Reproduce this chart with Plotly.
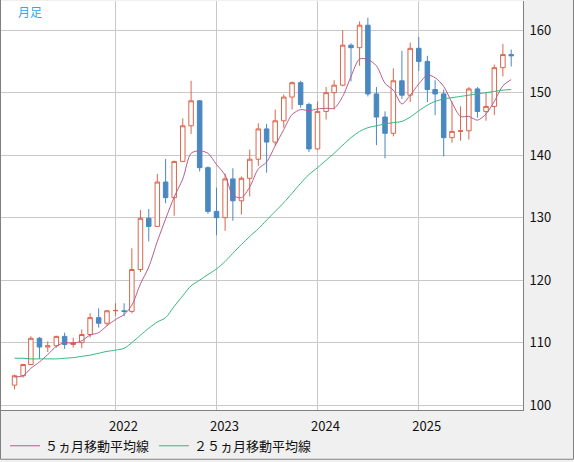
import pandas as pd
import plotly.graph_objects as go

# monthly bars, Jan 2021 - Dec 2025
months = pd.date_range("2021-01-01", "2025-12-01", freq="MS")

opens = [103.2, 104.7, 106.5, 110.7, 109.3, 109.5, 111.0, 109.7, 110.0, 111.3, 114.0, 113.1,
         115.1, 115.1, 115.0, 121.7, 129.9, 128.6, 135.7, 133.2, 139.0, 144.7, 148.7, 138.0,
         131.0, 130.0, 136.2, 132.7, 136.3, 139.35, 144.2, 142.1, 145.5, 149.3, 151.6, 148.1,
         141.0, 147.0, 150.0, 151.2, 157.6, 157.2, 160.8, 149.8, 146.1, 143.5, 151.9, 149.6,
         157.1, 155.0, 150.5, 149.8, 142.8, 143.8, 143.9, 150.6, 147.0, 147.8, 154.0, 156.1]
highs = [104.9, 106.6, 111.0, 110.9, 110.2, 111.1, 111.6, 110.8, 112.1, 114.7, 115.5, 115.2,
         116.3, 116.3, 125.1, 131.2, 131.4, 137.0, 139.4, 139.1, 145.9, 151.9, 148.8, 138.2,
         134.8, 137.0, 137.9, 136.6, 140.9, 145.1, 145.0, 147.3, 149.7, 151.8, 151.9, 148.4,
         148.6, 150.9, 152.0, 160.0, 157.9, 161.4, 162.0, 150.9, 147.0, 153.9, 156.7, 158.0,
         158.9, 155.9, 152.0, 150.5, 148.6, 147.8, 150.9, 150.9, 150.0, 154.5, 157.8, 156.9]
lows = [102.5, 104.4, 106.4, 107.4, 108.5, 109.2, 109.0, 109.2, 109.1, 110.8, 112.4, 112.7,
        114.3, 114.2, 114.7, 121.3, 126.2, 128.6, 132.3, 130.3, 138.9, 143.4, 137.4, 130.6,
        127.2, 127.9, 129.5, 130.5, 133.4, 138.3, 137.2, 141.5, 144.4, 147.3, 147.6, 140.5,
        140.8, 145.7, 147.3, 151.0, 151.8, 154.3, 149.4, 141.6, 139.5, 143.0, 149.0, 148.5,
        153.5, 148.5, 146.4, 139.8, 142.0, 142.3, 142.5, 146.0, 145.5, 146.4, 152.6, 154.2]
closes = [104.7, 106.5, 110.7, 109.3, 109.5, 111.0, 109.7, 110.0, 111.3, 114.0, 113.1, 115.1,
          115.15, 115.0, 121.7, 129.9, 128.6, 135.7, 133.2, 139.0, 144.7, 148.7, 138.0, 131.0,
          130.0, 136.2, 132.7, 136.3, 139.35, 144.2, 142.1, 145.5, 149.3, 151.6, 148.1, 141.0,
          147.0, 150.0, 151.2, 157.6, 157.2, 160.8, 149.8, 146.1, 143.5, 151.9, 149.6, 157.1,
          155.0, 150.5, 149.8, 142.8, 143.8, 143.9, 150.6, 147.0, 147.8, 154.0, 156.1, 155.9]

ma5 = [104.5, 104.7, 105.9, 106.9, 108.1, 109.4, 110.0, 109.9, 110.3, 111.2, 111.6, 112.7,
       113.7, 114.5, 116.0, 119.4, 122.1, 126.2, 129.8, 133.3, 136.2, 140.3, 140.7, 140.3,
       138.5, 136.8, 133.6, 133.2, 134.9, 137.8, 138.9, 141.5, 144.1, 146.5, 147.3, 147.1,
       147.4, 147.5, 147.5, 149.4, 152.6, 155.4, 155.3, 154.3, 151.5, 150.4, 148.2, 149.6,
       151.4, 152.8, 152.4, 151.0, 148.4, 146.2, 146.2, 145.6, 146.6, 148.6, 151.1, 152.1]
ma25 = [107.5, 107.5, 107.4, 107.4, 107.4, 107.4, 107.5, 107.6, 107.8, 108.0, 108.3, 108.6,
        108.8, 109.1, 110.0, 111.2, 112.3, 113.3, 114.0, 115.8, 117.5, 119.1, 120.0, 120.9,
        121.8, 123.0, 124.3, 125.7, 127.0, 128.2, 129.6, 131.0, 132.4, 133.9, 135.5, 136.9,
        138.0, 139.2, 140.3, 141.6, 142.8, 143.8, 144.4, 144.7, 145.0, 145.2, 145.4, 146.1,
        147.1, 148.0, 148.6, 149.0, 149.2, 149.4, 149.6, 149.8, 150.0, 150.2, 150.4, 150.5]

year_ticks = ["2022-01-01", "2023-01-01", "2024-01-01", "2025-01-01"]
year_labels = ["2022", "2023", "2024", "2025"]

up_col = "#d9664b"
down_col = "#4a88c0"
font = "Noto Sans CJK JP"

fig = go.Figure()

fig.add_trace(go.Candlestick(
    x=months, open=opens, high=highs, low=lows, close=closes,
    increasing=dict(line=dict(color=up_col, width=1), fillcolor="white"),
    decreasing=dict(line=dict(color=down_col, width=1), fillcolor=down_col),
    showlegend=False, hoverinfo="skip"))

fig.add_trace(go.Scatter(x=months, y=ma5, mode="lines", name="５ヵ月移動平均線",
                         line=dict(color="#b85c8c", width=1, shape="spline", smoothing=0.8)))
fig.add_trace(go.Scatter(x=months, y=ma25, mode="lines", name="２５ヵ月移動平均線",
                         line=dict(color="#35b87a", width=1, shape="spline", smoothing=0.8)))

W, H = 574, 462
L, R, T, B = 1, 51, 1, 50
pw, ph = W - L - R, H - T - B

fig.update_layout(
    width=W, height=H,
    margin=dict(l=L, r=R, t=T, b=B),
    paper_bgcolor="#f0f0f0", plot_bgcolor="white",
    boxgap=0.17,
    font=dict(family=font, size=13, color="#111111"),
    legend=dict(orientation="h", x=(5 - L) / pw, xanchor="left",
                y=-(448 - (T + ph)) / ph, yanchor="middle",
                font=dict(family=font, size=13, color="#111111"),
                bgcolor="rgba(0,0,0,0)"),
    annotations=[dict(text="月足", xref="paper", yref="paper",
                      x=(16 - L) / pw, y=1 - (12 - T) / ph, xanchor="left", yanchor="middle",
                      showarrow=False, font=dict(family=font, size=12, color="#2ea8ea"))],
    shapes=[
        dict(type="line", xref="paper", yref="paper", x0=-(L - 0.5) / pw, x1=-(L - 0.5) / pw,
             y0=-(B - 0.5) / ph, y1=1 + T / ph, line=dict(color="#808080", width=1)),
        dict(type="line", xref="paper", yref="paper", x0=-(L - 0.5) / pw, x1=1 + (R - 0.5) / pw,
             y0=-(B - 0.5) / ph, y1=-(B - 0.5) / ph, line=dict(color="#808080", width=1)),
        dict(type="line", xref="paper", yref="paper", x0=1 + (R - 0.5) / pw, x1=1 + (R - 0.5) / pw,
             y0=-(B - 0.5) / ph, y1=1 + T / ph, line=dict(color="#808080", width=1)),
    ],
)

fig.update_xaxes(
    type="date", range=["2020-11-13", "2026-01-12 16:00"],
    rangeslider=dict(visible=False),
    tickmode="array", tickvals=year_ticks, ticktext=year_labels,
    ticks="", ticklabelshift=8, ticklabelstandoff=4,
    showgrid=True, gridcolor="#c8c8c8", gridwidth=1,
    showline=True, linecolor="#808080", linewidth=1,
    zeroline=False, fixedrange=True,
    tickfont=dict(family=font, size=13, color="#111111"))

fig.update_yaxes(
    side="right", range=[99.22, 164.67], dtick=10, tick0=0,
    ticks="", ticklabelstandoff=3,
    showgrid=True, gridcolor="#c8c8c8", gridwidth=1,
    showline=True, linecolor="#808080", linewidth=1,
    zeroline=False, fixedrange=True,
    tickfont=dict(family=font, size=13, color="#111111"))

# the page body has a default 8px margin; drop it so the chart fills the window
fig.write_html("out.html", config=dict(displayModeBar=False),
               post_script="document.body.style.margin='0';")
